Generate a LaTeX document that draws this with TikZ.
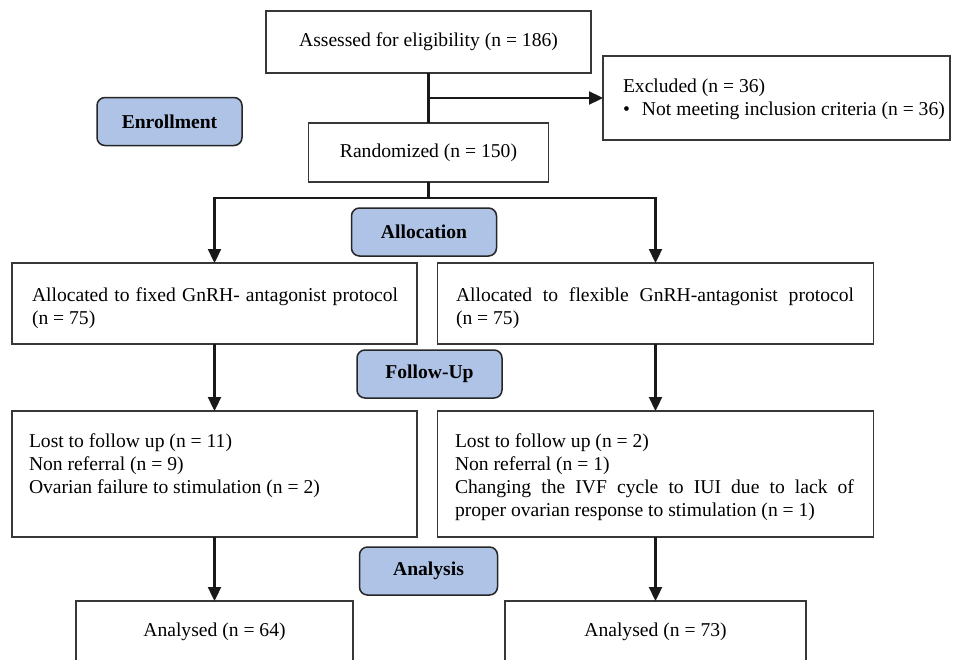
\documentclass[tikz,border=0pt]{standalone}
\usepackage{fontspec}
\setmainfont{Liberation Serif}
\usetikzlibrary{arrows.meta}
\definecolor{pillblue}{RGB}{174,195,230}
\definecolor{boxline}{RGB}{55,55,55}
\begin{document}
\begin{tikzpicture}[x=1pt,y=-1pt,
  every node/.style={font=\fontsize{19.6}{22.7}\selectfont, inner sep=0pt, outer sep=0pt},
  box/.style={draw=boxline, line width=1.6pt, fill=white, rectangle},
  pill/.style={draw=black!85, line width=1.5pt, fill=pillblue, rounded corners=8pt,
    minimum width=145pt, minimum height=48pt, font=\fontsize{19.6}{22.7}\selectfont\bfseries},
  txt/.style={anchor=north west, align=left},
  conn/.style={line width=2.3pt, black!90},
  arr/.style={conn, -{Triangle[length=14pt, width=13pt]}},
]
\useasboundingbox (0,0) rectangle (953,659);
\fill[white] (0,0) rectangle (953,659);
\clip (0,0) rectangle (953,659);

% boxes
\node[box, minimum width=325pt, minimum height=62pt] (assess) at (428.5,42) {Assessed for eligibility (n = 186)};
\node[box, minimum width=240pt, minimum height=59pt] (rand) at (428.5,152.5) {Randomized (n = 150)};
\node[box, minimum width=347pt, minimum height=84pt] (excl) at (776.5,98) {};
\node[txt] (exclt) at (623,77.1) {\strut Excluded (n = 36)\\\makebox[19pt][l]{\textbullet}Not meeting inclusion criteria (n = 36)};

\node[box, minimum width=405pt, minimum height=81pt] (allocL) at (214.5,303.5) {};
\node[box, minimum width=436pt, minimum height=81pt] (allocR) at (655.5,303.5) {};
\node[txt] (allocLt) at (32,286.1) {\strut\makebox[366pt][s]{Allocated to fixed GnRH- antagonist protocol}\\(n = 75)};
\node[txt] (allocRt) at (456,286.1) {\strut\makebox[398pt][s]{Allocated to flexible GnRH-antagonist protocol}\\(n = 75)};

\node[box, minimum width=405pt, minimum height=126pt] (lostL) at (214.5,474) {};
\node[box, minimum width=436pt, minimum height=126pt] (lostR) at (655.5,474) {};
\node[txt] (lostLt) at (29,432.1) {\strut Lost to follow up (n = 11)\\Non referral (n = 9)\\Ovarian failure to stimulation (n = 2)};
\node[txt] (lostRt) at (455,432.1) {\strut Lost to follow up (n = 2)\\Non referral (n = 1)\\\makebox[399pt][s]{Changing the IVF cycle to IUI due to lack of}\\proper ovarian response to stimulation (n = 1)};

\node[box, minimum width=277pt, minimum height=62pt] (anL) at (214.5,632) {Analysed (n = 64)};
\node[box, minimum width=301pt, minimum height=62pt] (anR) at (655.5,632) {Analysed (n = 73)};

% stage labels
\node[pill] (enroll) at (169.5,121.5) {Enrollment};
\node[pill] (alloc) at (424,232) {Allocation};
\node[pill] (follow) at (429.5,374) {Follow-Up};
\node[pill, minimum width=138pt] (analysis) at (428.5,571) {Analysis};

% connectors
\coordinate (exsplit) at (assess.south |- excl.west);
\coordinate (split) at (428.5,198);
\draw[conn] (assess.south) -- (rand.north);
\draw[arr] (exsplit) -- (excl.west);
\draw[conn] (rand.south) -- (split);
\draw[arr] (split) -| (allocL.north);
\draw[arr] (split) -| (allocR.north);
\draw[arr] (allocL.south) -- (lostL.north);
\draw[arr] (allocR.south) -- (lostR.north);
\draw[arr] (lostL.south) -- (anL.north);
\draw[arr] (lostR.south) -- (anR.north);
\end{tikzpicture}
\end{document}
